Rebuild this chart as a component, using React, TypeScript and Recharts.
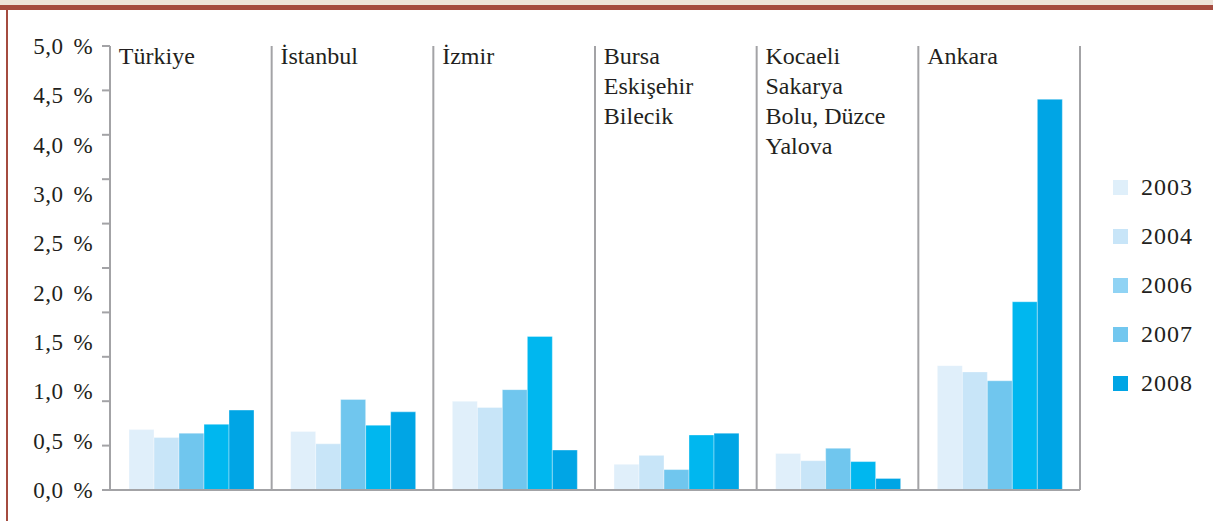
import React from "react";
import { ComposedChart, Bar, Line, XAxis, YAxis, CartesianGrid } from "recharts";

// regions (multi-line names split on \n)
const regions = [
  "Türkiye",
  "İstanbul",
  "İzmir",
  "Bursa\nEskişehir\nBilecik",
  "Kocaeli\nSakarya\nBolu, Düzce\nYalova",
  "Ankara",
];

const years = ["2003", "2004", "2006", "2007", "2008"];

// share in %
const v2003 = [0.68, 0.66, 1.0, 0.29, 0.41, 1.4];
const v2004 = [0.59, 0.52, 0.93, 0.39, 0.33, 1.33];
const v2006 = [0.64, 1.02, 1.13, 0.23, 0.47, 1.23];
const v2007 = [0.74, 0.73, 1.73, 0.62, 0.32, 2.12];
const v2008 = [0.9, 0.88, 0.45, 0.64, 0.13, 4.4];

const yTicks = [0, 0.5, 1, 1.5, 2, 2.5, 3, 3.5, 4, 4.5, 5];
// the printed labels (the original skips 3,5 and spaces them evenly)
const yLabels = ["0,0 %", "0,5 %", "1,0 %", "1,5 %", "2,0 %", "2,5 %", "3,0 %", "4,0 %", "4,5 %", "5,0 %"];

const barColors = ["#e0effa", "#c8e5f8", "#70c6ee", "#00b7ef", "#00a5e5"];
const legendColors = ["#dfeffa", "#c8e5f8", "#90d3f4", "#72c7ef", "#00a5e5"];

const series = [v2003, v2004, v2006, v2007, v2008];

const data = regions.map((region, i) => {
  const row: Record<string, string | number> = { region };
  years.forEach((y, k) => {
    row["y" + y] = series[k][i];
  });
  return row;
});

const FONT = "'Liberation Serif', 'Times New Roman', serif";
const GRAY = "#a3a3a6";
const RED = "#a44b3f";

const RegionTick = (props: any) => {
  const { x, y, payload } = props;
  const lines = String(payload.value).split("\n");
  const left = x - 72;
  return (
    <text x={left} y={y} fontFamily={FONT} fontSize={24} fill="#231f20" textAnchor="start">
      {lines.map((l, i) => (
        <tspan key={i} x={left} dy={i === 0 ? 18 : 30}>
          {l}
        </tspan>
      ))}
    </text>
  );
};

const EmptyTick = () => <g />;

export default function App() {
  return (
    <div
      style={{
        position: "absolute",
        left: 0,
        top: 0,
        width: 1213,
        height: 521,
        background: "#fff",
        overflow: "hidden",
      }}
    >
      <div style={{ position: "absolute", left: 0, top: 0, width: 1213, height: 5, background: "#ede3d9" }} />
      <div style={{ position: "absolute", left: 0, top: 5, width: 1213, height: 5, background: RED }} />
      <div style={{ position: "absolute", left: 6, top: 10, width: 2, height: 511, background: RED }} />

      <ComposedChart
        width={1213}
        height={521}
        data={data}
        margin={{ top: 45, right: 133, bottom: 30, left: 0 }}
        barCategoryGap={19}
        barGap={0}
        style={{ position: "absolute", left: 0, top: 0 }}
      >
        <CartesianGrid
          horizontal={false}
          stroke={GRAY}
          strokeWidth={2}
          verticalCoordinatesGenerator={({ offset }: any) =>
            regions.map((_, i) => offset.left + ((i + 1) * offset.width) / regions.length)
          }
        />
        <XAxis
          dataKey="region"
          orientation="top"
          height={1}
          axisLine={false}
          tickLine={false}
          tickSize={0}
          tickMargin={0}
          interval={0}
          tick={<RegionTick />}
        />
        <XAxis
          xAxisId="base"
          dataKey="region"
          orientation="bottom"
          height={1}
          tick={false}
          tickLine={false}
          axisLine={{ stroke: GRAY, strokeWidth: 2 }}
        />
        <YAxis
          yAxisId="share"
          type="number"
          domain={[0, 5]}
          ticks={yTicks}
          width={10}
          tickSize={8}
          tick={<EmptyTick />}
          axisLine={{ stroke: GRAY, strokeWidth: 2 }}
          tickLine={{ stroke: GRAY, strokeWidth: 2 }}
        />
        <YAxis
          yAxisId="text"
          type="number"
          domain={[0, yLabels.length - 1]}
          allowDataOverflow
          ticks={yLabels.map((_, i) => i)}
          tickFormatter={(i: number) => yLabels[i]}
          width={100}
          axisLine={false}
          tickLine={false}
          tickSize={0}
          tickMargin={7}
          interval={0}
          tick={{ fontFamily: FONT, fontSize: 23, fill: "#231f20", letterSpacing: 0.4, wordSpacing: 4 }}
        />
        {years.map((y, k) => (
          <Bar
            key={y}
            dataKey={"y" + y}
            yAxisId="share"
            fill={barColors[k]}
            stroke="#ffffff"
            strokeOpacity={0.35}
            strokeWidth={1}
            isAnimationActive={false}
          />
        ))}
        {/* invisible series so the label axis has something bound to it */}
        <Line
          yAxisId="text"
          dataKey="y2003"
          stroke="none"
          dot={false}
          activeDot={false}
          legendType="none"
          isAnimationActive={false}
        />
      </ComposedChart>

      <div style={{ position: "absolute", left: 1113, top: 163, fontFamily: FONT }}>
        {years.map((y, k) => (
          <div key={y} style={{ display: "flex", alignItems: "center", height: 49 }}>
            <div style={{ width: 15, height: 15, background: legendColors[k] }} />
            <span style={{ marginLeft: 13, fontSize: 24, letterSpacing: 1, color: "#231f20" }}>{y}</span>
          </div>
        ))}
      </div>
    </div>
  );
}
